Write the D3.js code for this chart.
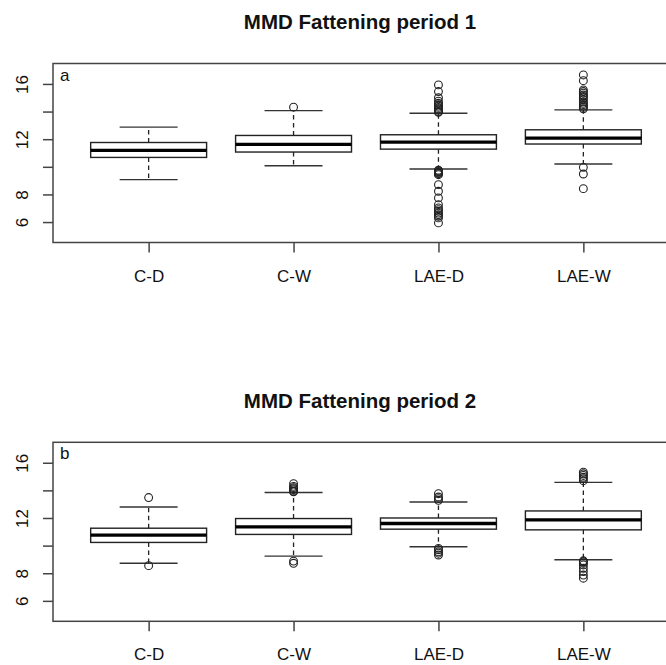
<!DOCTYPE html>
<html>
<head>
<meta charset="utf-8">
<script src="https://cdn.jsdelivr.net/npm/d3@7"></script>
<style>
  html, body { margin: 0; padding: 0; background: #fff; }
  svg { display: block; }
  text { font-family: "Liberation Sans", Arial, Helvetica, sans-serif; fill: #111; }
</style>
</head>
<body>
<svg id="chart" width="666" height="665"></svg>
<script>
// Groups shown on the x axis
const categories = ["C-D", "C-W", "LAE-D", "LAE-W"];

// Y axis ticks; R drops the labels that would overlap
const yTicks = [6, 8, 10, 12, 14, 16];
const yTickLabels = ["6", "8", "", "12", "", "16"];
const yLimits = [5, 17];

// Period 1: box statistics per group
const p1Low    = [9.07, 10.08, 9.84, 10.20];
const p1Q1     = [10.68, 11.07, 11.28, 11.65];
const p1Median = [11.19, 11.62, 11.79, 12.08];
const p1Q3     = [11.76, 12.27, 12.32, 12.68];
const p1High   = [12.87, 14.07, 13.88, 14.12];
const p1OutCD  = [];
const p1OutCW  = [14.32];
const p1OutLD  = [13.95, 14.0, 14.1, 14.2, 14.3, 14.4, 14.5, 14.6, 14.75, 15.0, 15.45, 15.93,
                  9.75, 9.7, 9.65, 9.6, 9.55, 9.5, 9.43, 8.71, 8.23, 7.75, 7.26, 7.02, 6.9,
                  6.78, 6.65, 6.54, 6.42, 6.3, 5.94];
const p1OutLW  = [14.2, 14.3, 14.4, 14.5, 14.6, 14.7, 14.85, 15.0, 15.1, 15.2, 15.33, 15.45,
                  15.57, 16.24, 16.65, 9.96, 9.48, 8.42];

// Period 2: box statistics per group
const p2Low    = [8.72, 9.24, 9.92, 8.98];
const p2Q1     = [10.23, 10.81, 11.19, 11.14];
const p2Median = [10.76, 11.36, 11.60, 11.86];
const p2Q3     = [11.26, 11.96, 12.00, 12.51];
const p2High   = [12.80, 13.84, 13.16, 14.58];
const p2OutCD  = [13.48, 8.55];
const p2OutCW  = [13.9, 13.95, 14.05, 14.12, 14.2, 14.29, 14.49, 8.88, 8.72];
const p2OutLD  = [13.28, 13.4, 13.52, 13.76, 9.8, 9.7, 9.55, 9.45, 9.32];
const p2OutLW  = [14.7, 14.85, 14.95, 15.08, 15.2, 15.32, 8.9, 8.83, 8.75, 8.6, 8.36, 8.12,
                  7.87, 7.64];

const panels = [
  { title: "MMD Fattening period 1", tag: "a", top: 63.5,
    low: p1Low, q1: p1Q1, med: p1Median, q3: p1Q3, high: p1High,
    out: [p1OutCD, p1OutCW, p1OutLD, p1OutLW] },
  { title: "MMD Fattening period 2", tag: "b", top: 442.3,
    low: p2Low, q1: p2Q1, med: p2Median, q3: p2Q3, high: p2High,
    out: [p2OutCD, p2OutCW, p2OutLD, p2OutLW] }
];

const svg = d3.select("#chart");
const left = 53, right = 679, plotH = 179;
const frameColor = "#444";
const labelFont = "17px";

// R-style 4% padding around the axis limits
const padY = (yLimits[1] - yLimits[0]) * 0.04;
const x = d3.scaleLinear()
  .domain([0.5 - 0.16, categories.length + 0.5 + 0.16])
  .range([left, right]);
const boxW = x(1.8) - x(1.0);   // boxwex 0.8
const capW = boxW / 2;          // staplewex 0.5

panels.forEach(p => {
  const g = svg.append("g");
  const y = d3.scaleLinear()
    .domain([yLimits[0] - padY, yLimits[1] + padY])
    .range([p.top + plotH, p.top]);

  // title
  g.append("text")
    .attr("x", 360).attr("y", p.top - 34.5)
    .attr("text-anchor", "middle")
    .style("font-weight", "bold").style("font-size", "20.5px")
    .text(p.title);

  // boxes
  categories.forEach((c, i) => {
    const cx = x(i + 1);
    const bg = g.append("g");
    // dashed whiskers
    bg.append("line").attr("x1", cx).attr("x2", cx)
      .attr("y1", y(p.q3[i])).attr("y2", y(p.high[i]))
      .attr("stroke", "#222").attr("stroke-width", 1.3).attr("stroke-dasharray", "4.5,3.5");
    bg.append("line").attr("x1", cx).attr("x2", cx)
      .attr("y1", y(p.q1[i])).attr("y2", y(p.low[i]))
      .attr("stroke", "#222").attr("stroke-width", 1.3).attr("stroke-dasharray", "4.5,3.5");
    // staples
    [p.high[i], p.low[i]].forEach(v => {
      bg.append("line").attr("x1", cx - capW / 2).attr("x2", cx + capW / 2)
        .attr("y1", y(v)).attr("y2", y(v))
        .attr("stroke", "#333").attr("stroke-width", 1.4);
    });
    // box
    bg.append("rect")
      .attr("x", cx - boxW / 2).attr("width", boxW)
      .attr("y", y(p.q3[i])).attr("height", y(p.q1[i]) - y(p.q3[i]))
      .attr("fill", "#fff").attr("stroke", "#222").attr("stroke-width", 1.4);
    // median
    bg.append("line").attr("x1", cx - boxW / 2).attr("x2", cx + boxW / 2)
      .attr("y1", y(p.med[i])).attr("y2", y(p.med[i]))
      .attr("stroke", "#000").attr("stroke-width", 3.3);
    // outliers
    bg.selectAll("circle").data(p.out[i]).enter().append("circle")
      .attr("cx", cx).attr("cy", d => y(d)).attr("r", 3.9)
      .attr("fill", "none").attr("stroke", "#222").attr("stroke-width", 1.1);
  });

  // frame
  g.append("rect")
    .attr("x", left).attr("y", p.top)
    .attr("width", right - left).attr("height", plotH)
    .attr("fill", "none").attr("stroke", frameColor).attr("stroke-width", 1.5);

  // panel tag
  g.append("text")
    .attr("x", 60).attr("y", p.top + 17)
    .style("font-size", labelFont)
    .text(p.tag);

  // y axis
  const ya = g.append("g")
    .attr("transform", `translate(${left},0)`)
    .call(d3.axisLeft(y).tickValues(yTicks).tickSize(10)
      .tickFormat((d, i) => yTickLabels[i]));
  ya.select(".domain").remove();
  ya.selectAll(".tick line").attr("stroke", frameColor).attr("stroke-width", 1.5);
  ya.selectAll(".tick text")
    .attr("x", null).attr("dy", null).attr("y", null)
    .attr("text-anchor", "middle")
    .attr("transform", "translate(-25,0) rotate(-90)")
    .style("font-size", labelFont).style("font-family", "Liberation Sans, Arial, sans-serif")
    .attr("fill", "#111");

  // x axis
  const xa = g.append("g")
    .attr("transform", `translate(0,${p.top + plotH})`)
    .call(d3.axisBottom(x).tickValues(categories.map((c, i) => i + 1)).tickSize(10)
      .tickPadding(17).tickFormat((d, i) => categories[i]));
  xa.select(".domain").remove();
  xa.selectAll(".tick line").attr("stroke", frameColor).attr("stroke-width", 1.5);
  xa.selectAll(".tick text")
    .style("font-size", labelFont).style("font-family", "Liberation Sans, Arial, sans-serif")
    .attr("fill", "#111");
});
</script>
</body>
</html>
